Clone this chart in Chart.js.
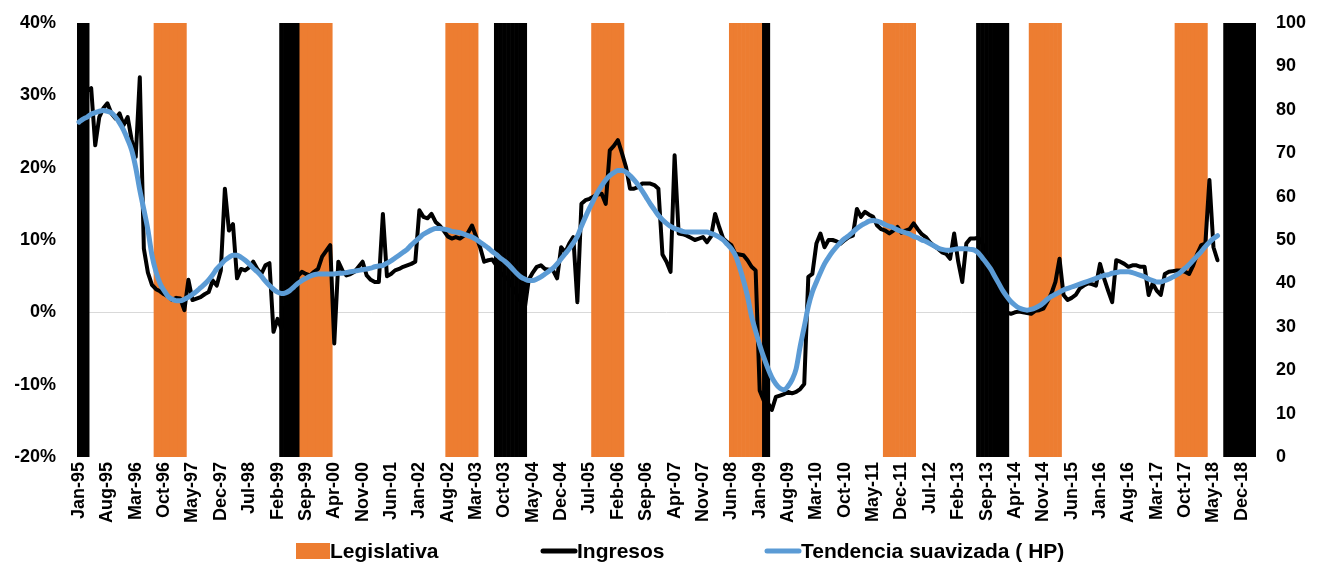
<!DOCTYPE html>
<html>
<head>
<meta charset="utf-8">
<title>Ingresos y ciclo electoral</title>
<script src="https://cdn.jsdelivr.net/npm/chart.js@4/dist/chart.umd.min.js"></script>
<style>
  html, body { margin: 0; padding: 0; background: #ffffff; }
  #wrap { width: 1322px; height: 564px; position: relative; }
</style>
</head>
<body>
<div id="wrap"><canvas id="chart"></canvas></div>
<script>
// ---- Categories: monthly, Jan-95 .. Mar-19 ----
const MONTH_NAMES = ['Jan','Feb','Mar','Apr','May','Jun','Jul','Aug','Sep','Oct','Nov','Dec'];
const FIRST_YEAR = 1995;
const MONTH_COUNT = 291;
const categories = [];
for (let i = 0; i < MONTH_COUNT; i++) {
  const yy = String((FIRST_YEAR + Math.floor(i / 12)) % 100).padStart(2, '0');
  categories.push(MONTH_NAMES[i % 12] + '-' + yy);
}
const TICK_EVERY = 7; // one label every seven months

// ---- Election windows (months shaded as full-height columns) ----
const legislativaPeriods = [
  ['Aug-96','Mar-97'], ['Aug-99','Mar-00'], ['Aug-02','Mar-03'], ['Aug-05','Mar-06'],
  ['Jun-08','Jan-09'], ['Aug-11','Mar-12'], ['Aug-14','Mar-15'], ['Aug-17','Mar-18']
];
const presidencialPeriods = [
  ['Jan-95','Mar-95'], ['Mar-99','Jul-99'], ['Aug-03','Mar-04'],
  ['Feb-09','Mar-09'], ['Jul-13','Feb-14'], ['Aug-18','Mar-19']
];
const BAR_LEVEL = 100; // right-axis value that fills the plot height

// ---- Ingresos: year-on-year growth (%), Jan-95 .. Jun-18 ----
const ingresos = [
  23.3, 27.5, 30.6, 31.0, 23.1, 27.0, 28.2, 28.9, 27.5, 26.8, 27.5, 25.9,   // 1995
  27.0, 23.8, 21.5, 32.5,  8.8,  5.5,  3.8,  3.2,  2.9,  2.5,  2.2,  1.7,   // 1996
   2.0,  1.9,  0.3,  4.5,  1.7,  1.9,  2.1,  2.5,  2.8,  4.4,  3.7,  5.8,   // 1997
  17.1, 11.3, 12.2,  4.7,  6.0,  5.8,  6.2,  7.0,  6.0,  5.3,  6.5,  6.8,   // 1998
  -2.7, -0.9, -2.3,  1.0,  3.0,  4.5,  5.0,  5.6,  5.3,  5.1,  5.6,  6.0,   // 1999
   7.7,  8.5,  9.3, -4.3,  7.0,  5.8,  5.1,  5.3,  5.6,  6.3,  7.0,  5.1,   // 2000
   4.5,  4.2,  4.2, 13.6,  5.0,  5.3,  5.8,  6.0,  6.3,  6.5,  6.7,  7.0,   // 2001
  14.1, 13.2, 13.0, 13.6, 12.5, 12.0, 11.3, 10.5, 10.2, 10.4, 10.2, 10.6,   // 2002
  11.0, 12.0, 10.5,  9.0,  7.0,  7.2,  7.3,  6.5,  5.5,  5.0,  4.5,  3.5,   // 2003
   2.5,  1.5,  0.5,  4.5,  5.5,  6.3,  6.5,  6.0,  5.9,  5.8,  4.7,  9.0,   // 2004
   8.3,  9.5, 10.4,  1.4, 15.0, 15.5, 15.7, 16.0, 16.3, 16.4, 15.0, 22.4,   // 2005
  23.0, 23.8, 22.0, 20.1, 17.1, 17.1, 17.3, 17.8, 17.8, 17.8, 17.6, 17.1,   // 2006
   8.0,  7.0,  5.6, 21.7, 10.9, 10.8, 10.6, 10.3, 10.0, 10.2, 10.4,  9.7,   // 2007
  10.5, 13.6, 11.8, 10.2,  9.7,  9.3,  8.1,  8.0,  7.9,  7.2,  6.3,  5.8,   // 2008
 -10.8,-12.2,-12.5,-13.5,-11.7,-11.5,-11.3,-11.0,-11.2,-11.0,-10.6, -9.9,   // 2009
   4.9,  5.3,  9.5, 10.9,  9.0, 10.0, 10.0,  9.8,  9.5, 10.0, 10.4, 10.6,   // 2010
  14.3, 13.2, 13.9, 13.5, 13.2, 12.0, 11.5, 11.3, 10.9, 11.3, 11.8, 11.0,   // 2011
  11.3, 11.5, 12.3, 11.5, 10.8, 10.4,  9.7,  9.2,  8.8,  8.3,  8.1,  7.4,   // 2012
  10.9,  7.0,  4.2,  9.5, 10.2, 10.2, 10.3,  9.5,  8.0,  6.0,  4.0,  2.5,   // 2013
   1.0,  0.0, -0.2,  0.0,  0.1,  0.0, -0.1, -0.2,  0.2,  0.3,  0.5,  1.5,   // 2014
   2.6,  4.2,  7.4,  2.4,  1.7,  2.0,  2.4,  3.3,  3.7,  4.0,  3.9,  3.7,   // 2015
   6.7,  4.7,  3.0,  1.4,  7.2,  7.0,  6.7,  6.3,  6.5,  6.5,  6.3,  6.3,   // 2016
   2.4,  4.0,  3.0,  2.4,  5.3,  5.6,  5.7,  5.8,  5.8,  5.6,  5.3,  6.5,   // 2017
   8.1,  9.3,  9.5, 18.3,  9.0,  7.2                                        // 2018
];

// ---- Hodrick-Prescott trend of ingresos (%) ----
const tendenciaHP = [
  26.3, 26.7, 27.0, 27.4, 27.6, 27.8, 27.9, 27.8, 27.6, 27.0, 26.2, 25.2,   // 1995
  23.9, 22.4, 20.0, 16.9, 14.2, 11.4,  7.9,  5.6,  4.0,  3.0,  2.2,  1.8,   // 1996
   1.6,  1.6,  1.8,  2.1,  2.5,  2.9,  3.4,  3.9,  4.5,  5.2,  6.0,  6.6,   // 1997
   7.2,  7.6,  7.9,  7.9,  7.6,  7.2,  6.7,  6.1,  5.6,  5.0,  4.3,  3.7,   // 1998
   3.2,  2.8,  2.6,  2.7,  3.0,  3.5,  4.0,  4.4,  4.7,  5.0,  5.2,  5.3,   // 1999
   5.3,  5.3,  5.3,  5.3,  5.4,  5.4,  5.5,  5.6,  5.7,  5.8,  5.9,  6.0,   // 2000
   6.1,  6.3,  6.4,  6.5,  6.8,  7.1,  7.5,  7.9,  8.3,  8.7,  9.3,  9.8,   // 2001
  10.3, 10.8, 11.1, 11.4, 11.6, 11.6, 11.5, 11.4, 11.2, 11.1, 11.0, 10.8,   // 2002
  10.6, 10.4, 10.1,  9.7,  9.3,  8.9,  8.4,  8.0,  7.5,  7.1,  6.6,  6.0,   // 2003
   5.4,  4.9,  4.6,  4.4,  4.4,  4.6,  4.9,  5.3,  5.7,  6.1,  6.7,  7.4,   // 2004
   8.1,  8.8,  9.6, 10.5, 11.9, 13.2, 14.4, 15.5, 16.6, 17.5, 18.3, 18.9,   // 2005
  19.3, 19.6, 19.6, 19.4, 18.9, 18.3, 17.6, 16.8, 15.9, 15.0, 14.2, 13.4,   // 2006
  12.8, 12.3, 11.9, 11.6, 11.4, 11.2, 11.1, 11.1, 11.1, 11.1, 11.1, 11.1,   // 2007
  10.9, 10.7, 10.4, 10.0,  9.4,  8.8,  7.9,  6.3,  4.4,  2.2, -0.6, -2.6,   // 2008
  -4.5, -6.2, -7.7, -9.0, -9.9,-10.5,-10.7,-10.2, -9.3, -7.8, -4.7, -2.0,   // 2009
   0.8,  2.8,  4.2,  5.5,  6.7,  7.6,  8.4,  9.1,  9.7, 10.2, 10.6, 11.1,   // 2010
  11.6, 12.0, 12.3, 12.6, 12.7, 12.6, 12.4, 12.1, 11.9, 11.7, 11.4, 11.2,   // 2011
  11.0, 10.8, 10.5, 10.3, 10.0,  9.8,  9.5,  9.2,  8.9,  8.7,  8.6,  8.6,   // 2012
   8.7,  8.8,  8.8,  8.8,  8.7,  8.6,  8.2,  7.5,  6.8,  6.0,  5.0,  4.0,   // 2013
   3.0,  2.2,  1.5,  1.0,  0.6,  0.4,  0.3,  0.4,  0.6,  0.9,  1.3,  1.8,   // 2014
   2.2,  2.5,  2.8,  3.1,  3.3,  3.5,  3.7,  3.9,  4.1,  4.3,  4.5,  4.7,   // 2015
   4.9,  5.1,  5.2,  5.4,  5.5,  5.6,  5.6,  5.6,  5.5,  5.3,  5.1,  4.9,   // 2016
   4.6,  4.4,  4.2,  4.2,  4.4,  4.6,  4.9,  5.2,  5.6,  6.1,  6.6,  7.2,   // 2017
   7.8,  8.4,  9.1,  9.7, 10.2, 10.6                                        // 2018
];

// ---- Axis ticks ----
const leftTicks  = { min: -20, max: 40, step: 10 };
const rightTicks = { min: 0, max: 100, step: 10 };

// ---- Colours and fonts ----
const COLOR_LEG = '#ED7D31';
const COLOR_PRES = '#000000';
const COLOR_ING = '#000000';
const COLOR_HP = '#5B9BD5';
const FONT_FAMILY = '"Liberation Sans", Arial, sans-serif';

function periodsToColumns(periods) {
  const col = categories.map(() => null);
  periods.forEach(([from, to]) => {
    const a = categories.indexOf(from), b = categories.indexOf(to);
    for (let i = a; i <= b; i++) col[i] = BAR_LEVEL;
  });
  return col;
}

// Fixed axis box sizes so the plot area sits at a known place
function fixWidth(w) {
  return s => { s.width = w; s.paddingTop = 0; s.paddingBottom = 0; };
}

// Legend drawn under the axis labels: symbol followed by its text
const legendEntries = [
  { label: 'Legislativa', kind: 'box', color: COLOR_LEG, x: 296, w: 34 },
  { label: 'Ingresos', kind: 'line', color: COLOR_ING, x: 541, w: 36 },
  { label: 'Tendencia suavizada ( HP)', kind: 'line', color: COLOR_HP, x: 765, w: 36 }
];
const bottomLegend = {
  id: 'bottomLegend',
  afterDraw(chart) {
    const ctx = chart.ctx;
    const y = 551;
    ctx.save();
    ctx.font = 'bold 21px ' + FONT_FAMILY;
    ctx.textBaseline = 'middle';
    ctx.textAlign = 'left';
    legendEntries.forEach(e => {
      if (e.kind === 'box') {
        ctx.fillStyle = e.color;
        ctx.fillRect(e.x, y - 8, e.w, 16);
      } else {
        ctx.strokeStyle = e.color;
        ctx.lineWidth = 5;
        ctx.lineCap = 'round';
        ctx.beginPath();
        ctx.moveTo(e.x + 2, y);
        ctx.lineTo(e.x + e.w - 2, y);
        ctx.stroke();
      }
      ctx.fillStyle = '#000000';
      ctx.fillText(e.label, e.x + e.w, y + 1);
    });
    ctx.restore();
  }
};

new Chart(document.getElementById('chart'), {
  type: 'bar',
  data: {
    labels: categories,
    datasets: [
      {
        type: 'line', label: 'Tendencia suavizada ( HP)', data: tendenciaHP,
        yAxisID: 'y', borderColor: COLOR_HP, borderWidth: 5, pointRadius: 0,
        tension: 0.4, cubicInterpolationMode: 'monotone',
        borderCapStyle: 'round', borderJoinStyle: 'round', fill: false, order: 0
      },
      {
        type: 'line', label: 'Ingresos', data: ingresos,
        yAxisID: 'y', borderColor: COLOR_ING, borderWidth: 4, pointRadius: 0,
        tension: 0, borderCapStyle: 'round', borderJoinStyle: 'round', fill: false, order: 1
      },
      {
        type: 'bar', label: 'Legislativa', data: periodsToColumns(legislativaPeriods),
        yAxisID: 'y1', backgroundColor: COLOR_LEG, borderWidth: 0,
        barPercentage: 1, categoryPercentage: 1, grouped: false, order: 2
      },
      {
        type: 'bar', label: 'Presidencial', data: periodsToColumns(presidencialPeriods),
        yAxisID: 'y1', backgroundColor: COLOR_PRES, borderWidth: 0,
        barPercentage: 1, categoryPercentage: 1, grouped: false, order: 3
      }
    ]
  },
  options: {
    responsive: true,
    maintainAspectRatio: false,
    animation: false,
    layout: { padding: { left: 15, right: 16, top: 23, bottom: 37 } },
    plugins: { legend: { display: false }, tooltip: { enabled: false } },
    scales: {
      x: {
        offset: true,
        grid: { display: false, drawTicks: false },
        border: { display: false },
        afterFit: s => { s.height = 70; },
        ticks: {
          autoSkip: false, minRotation: 90, maxRotation: 90, padding: 5,
          color: '#000000', font: { family: FONT_FAMILY, size: 18, weight: 'bold' },
          callback: (v, i) => (i % TICK_EVERY === 0 ? categories[i] : null)
        }
      },
      y: {
        position: 'left', min: leftTicks.min, max: leftTicks.max,
        border: { display: false },
        afterFit: fixWidth(62),
        grid: {
          drawTicks: false, lineWidth: 1,
          color: c => (c.tick && c.tick.value === 0 ? '#D9D9D9' : 'rgba(0,0,0,0)')
        },
        ticks: {
          stepSize: leftTicks.step, padding: 21, color: '#000000',
          font: { family: FONT_FAMILY, size: 18, weight: 'bold' },
          callback: v => v + '%'
        }
      },
      y1: {
        position: 'right', min: rightTicks.min, max: rightTicks.max,
        border: { display: false },
        afterFit: fixWidth(50),
        grid: { display: false, drawTicks: false, drawOnChartArea: false },
        ticks: {
          stepSize: rightTicks.step, padding: 20, color: '#000000',
          font: { family: FONT_FAMILY, size: 18, weight: 'bold' }
        }
      }
    }
  },
  plugins: [bottomLegend]
});
</script>
</body>
</html>
